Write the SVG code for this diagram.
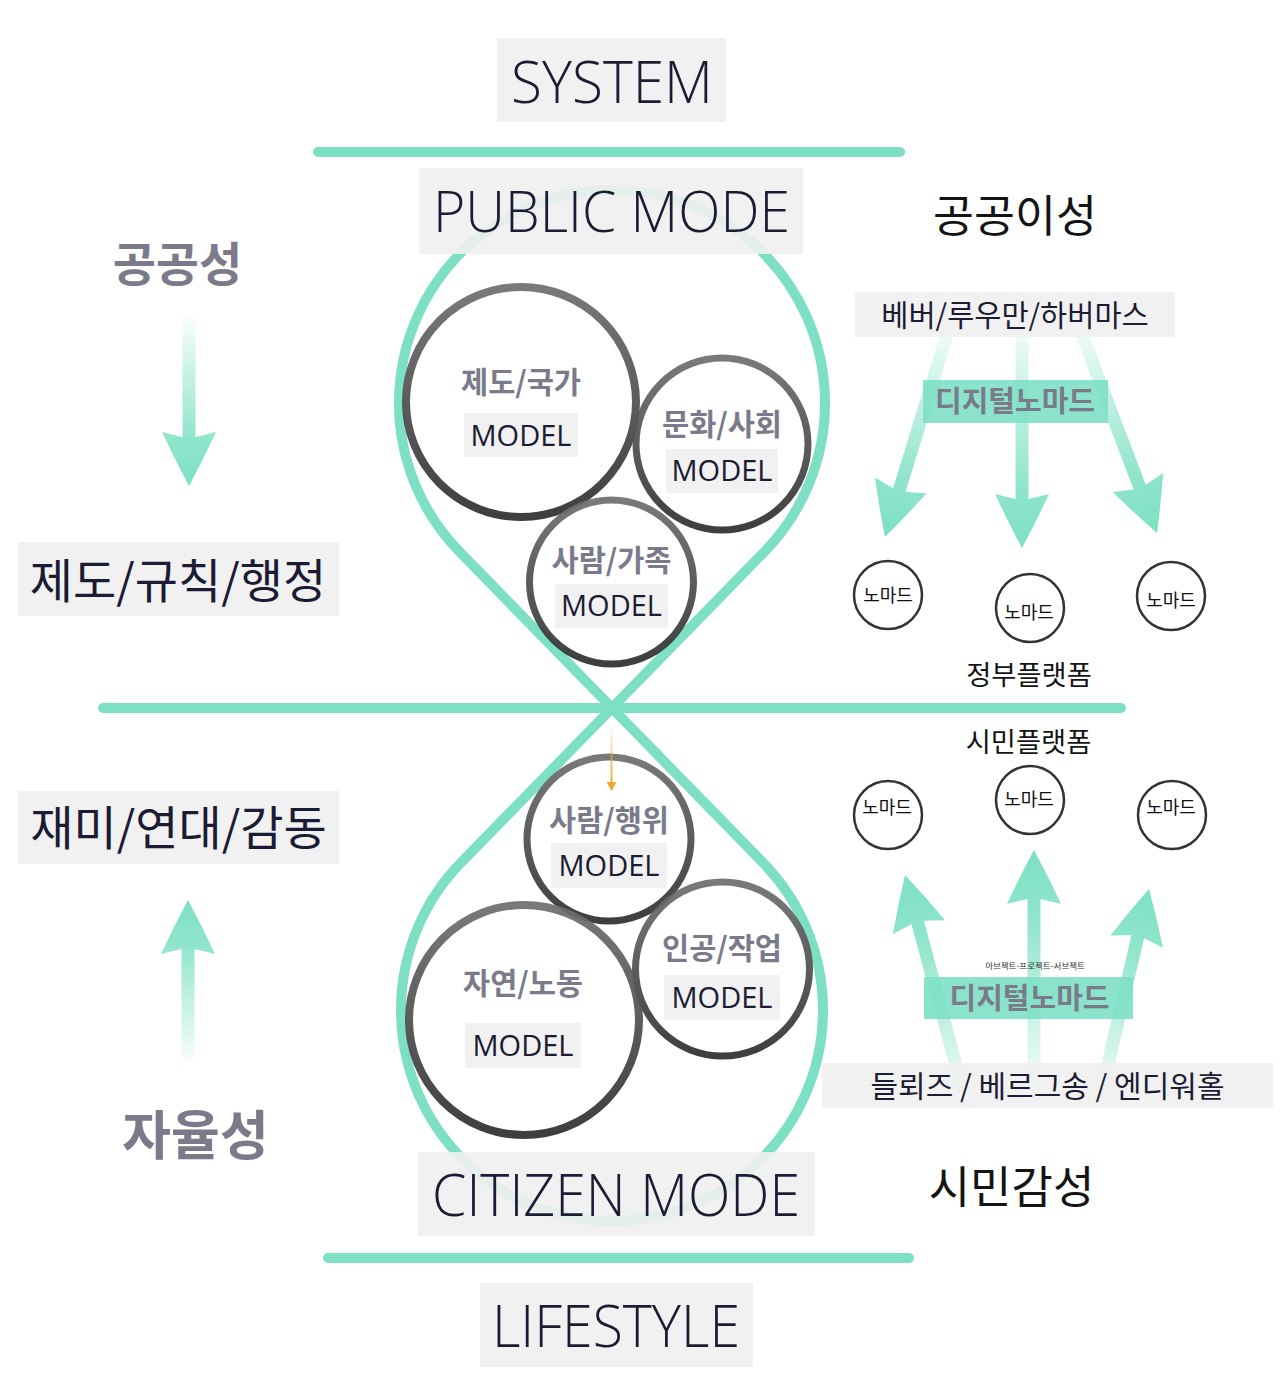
<svg xmlns="http://www.w3.org/2000/svg" width="1280" height="1389" viewBox="0 0 1280 1389">
<defs>
<linearGradient id="fade" x1="0" y1="0" x2="0" y2="1">
<stop offset="0" stop-color="#7de0c4" stop-opacity="0.06"/>
<stop offset="0.72" stop-color="#7de0c4" stop-opacity="0.85"/>
<stop offset="1" stop-color="#7de0c4" stop-opacity="1"/>
</linearGradient>
<linearGradient id="ringGrad" x1="0" y1="0" x2="0" y2="1">
<stop offset="0" stop-color="#6e6e6e"/>
<stop offset="1" stop-color="#2e2e2e"/>
</linearGradient>
<linearGradient id="orangeGrad" gradientUnits="userSpaceOnUse" x1="0" y1="722" x2="0" y2="784">
<stop offset="0" stop-color="#f0a830" stop-opacity="0"/>
<stop offset="1" stop-color="#f0a830" stop-opacity="1"/>
</linearGradient>
</defs>
<style>
.teal{fill:none;stroke:#7de0c4;stroke-width:10;stroke-linecap:round;stroke-linejoin:round}
.box{fill:#f0f0f0;fill-opacity:0.9}
.tbox{fill:#7de0c4;fill-opacity:0.9}
.title{font-family:"Open Sans","Liberation Sans",sans-serif;font-weight:300;fill:#1b1b33;text-anchor:middle}
.model{font-family:"Open Sans","Liberation Sans",sans-serif;font-weight:400;font-size:29px;fill:#1b1b33;text-anchor:middle}
.kr{font-family:"Noto Sans CJK KR","Noto Sans CJK SC",sans-serif;text-anchor:middle}
.gray{fill:#7a7a8b;font-weight:700}
.navy{fill:#1b1b33;font-weight:400}
.blk{fill:#141414;font-weight:400}
.ring{fill:none;stroke:url(#ringGrad);stroke-opacity:0.92}
.bg{fill:#ffffff}
.nomad{fill:#ffffff;stroke:#333333;stroke-width:2.5}
.ntext{font-family:"Noto Sans CJK KR","Noto Sans CJK SC",sans-serif;font-size:18px;fill:#111111;text-anchor:middle}
.arrow{fill:url(#fade)}
</style>
<rect width="1280" height="1389" fill="#ffffff"/>

<g id="frame">
<path class="teal" d="M612,708 L459.6,551.8 A213,213 0 1 1 764.4,551.8 Z"/>
<path class="teal" d="M612,708 L461.1,862.6 A211,211 0 1 0 762.9,862.6 Z"/>
<line class="teal" x1="318" y1="152" x2="900" y2="152"/>
<line class="teal" x1="103" y1="708" x2="1121" y2="708"/>
<line class="teal" x1="328" y1="1258" x2="909" y2="1258"/>
</g>

<g id="circle-backdrops">
<circle class="bg" cx="521" cy="402" r="115"/>
<circle class="bg" cx="722" cy="444" r="86"/>
<circle class="bg" cx="611.5" cy="582" r="82"/>
<circle class="bg" cx="609" cy="839" r="82"/>
<circle class="bg" cx="722.5" cy="969" r="87"/>
<circle class="bg" cx="524" cy="1020" r="115"/>
</g>

<g id="node-jedo-gukga">
<circle class="ring" cx="521" cy="402" r="115" stroke-width="8"/>
<text class="kr gray" x="521" y="393" font-size="29.5">제도/국가</text>
<rect class="box" x="464" y="413" width="114" height="44"/>
<text class="model" x="521" y="445.5">MODEL</text>
</g>
<g id="node-munhwa-sahoe">
<circle class="ring" cx="722" cy="444" r="86" stroke-width="7"/>
<text class="kr gray" x="722" y="435" font-size="29.5">문화/사회</text>
<rect class="box" x="666" y="449" width="112" height="44"/>
<text class="model" x="722" y="481">MODEL</text>
</g>
<g id="node-saram-gajok">
<circle class="ring" cx="611.5" cy="582" r="82" stroke-width="7"/>
<text class="kr gray" x="611.5" y="571" font-size="29.5">사람/가족</text>
<rect class="box" x="555" y="584" width="113" height="44"/>
<text class="model" x="611.5" y="616">MODEL</text>
</g>
<g id="node-saram-haengwi">
<circle class="ring" cx="609" cy="839" r="82" stroke-width="7"/>
<text class="kr gray" x="609" y="831" font-size="29.5">사람/행위</text>
<rect class="box" x="551" y="843" width="116" height="45"/>
<text class="model" x="609" y="876">MODEL</text>
</g>
<g id="node-ingong-jageop">
<circle class="ring" cx="722.5" cy="969" r="87" stroke-width="7"/>
<text class="kr gray" x="722" y="959" font-size="29.5">인공/작업</text>
<rect class="box" x="664" y="975" width="116" height="45"/>
<text class="model" x="722" y="1008">MODEL</text>
</g>
<g id="node-jayeon-nodong">
<circle class="ring" cx="524" cy="1020" r="115" stroke-width="8"/>
<text class="kr gray" x="523" y="994" font-size="29.5">자연/노동</text>
<rect class="box" x="465" y="1023" width="116" height="45"/>
<text class="model" x="523" y="1056">MODEL</text>
</g>

<g id="nomads-upper">
<g id="nomad-u1"><circle class="nomad" cx="888" cy="595" r="34"/><text class="ntext" x="888" y="601.8">노마드</text></g>
<g id="nomad-u2"><circle class="nomad" cx="1030" cy="608" r="34"/><text class="ntext" x="1029" y="618.8">노마드</text></g>
<g id="nomad-u3"><circle class="nomad" cx="1171" cy="596" r="34"/><text class="ntext" x="1171" y="606.8">노마드</text></g>
</g>
<g id="nomads-lower">
<g id="nomad-l1"><circle class="nomad" cx="888" cy="815" r="34"/><text class="ntext" x="887" y="813.8">노마드</text></g>
<g id="nomad-l2"><circle class="nomad" cx="1030" cy="800" r="34"/><text class="ntext" x="1029" y="805.8">노마드</text></g>
<g id="nomad-l3"><circle class="nomad" cx="1172" cy="815" r="34"/><text class="ntext" x="1171" y="813.8">노마드</text></g>
</g>

<g id="connectors">
<path class="arrow" transform="translate(189,486)" d="M0,0 Q-14,-26 -27,-54 L-6.5,-49 L-6.5,-168 L6.5,-168 L6.5,-49 L27,-54 Q14,-26 0,0 Z"/>
<path class="arrow" transform="translate(188,900) rotate(180)" d="M0,0 Q-14,-26 -27,-54 L-6.5,-49 L-6.5,-160 L6.5,-160 L6.5,-49 L27,-54 Q14,-26 0,0 Z"/>
<path class="arrow" transform="translate(1022,548)" d="M0,0 Q-14,-26 -27,-54 L-6.5,-49 L-6.5,-228 L6.5,-228 L6.5,-49 L27,-54 Q14,-26 0,0 Z"/>
<path class="arrow" transform="translate(885,537) rotate(17)" d="M0,0 Q-14,-26 -27,-54 L-6.5,-49 L-6.5,-225 L6.5,-225 L6.5,-49 L27,-54 Q14,-26 0,0 Z"/>
<path class="arrow" transform="translate(1157,533) rotate(-20.7)" d="M0,0 Q-14,-26 -27,-54 L-6.5,-49 L-6.5,-226 L6.5,-226 L6.5,-49 L27,-54 Q14,-26 0,0 Z"/>
<path class="arrow" transform="translate(1034,850) rotate(180)" d="M0,0 Q-14,-26 -27,-54 L-6.5,-49 L-6.5,-245 L6.5,-245 L6.5,-49 L27,-54 Q14,-26 0,0 Z"/>
<path class="arrow" transform="translate(905,875) rotate(165)" d="M0,0 Q-14,-26 -27,-54 L-6.5,-49 L-6.5,-243 L6.5,-243 L6.5,-49 L27,-54 Q14,-26 0,0 Z"/>
<path class="arrow" transform="translate(1149,889) rotate(193.2)" d="M0,0 Q-14,-26 -27,-54 L-6.5,-49 L-6.5,-220 L6.5,-220 L6.5,-49 L27,-54 Q14,-26 0,0 Z"/>
<line x1="611.5" y1="722" x2="611.5" y2="784" stroke="url(#orangeGrad)" stroke-width="2"/>
<path d="M606.5,782 L616.5,782 L611.5,791 Z" fill="#f0a830"/>
</g>

<g id="left-labels">
<g id="gonggongseong"><text class="kr gray" x="177.5" y="281" font-size="47">공공성</text></g>
<g id="jedo-gyuchik"><rect class="box" x="18" y="542" width="321" height="74"/><text class="kr navy" x="178" y="598" font-size="47">제도/규칙/행정</text></g>
<g id="jaemi-yeondae"><rect class="box" x="18" y="791" width="321" height="73"/><text class="kr navy" x="178.5" y="845" font-size="47">재미/연대/감동</text></g>
<g id="jayulseong"><text class="kr gray" x="195.5" y="1155" font-size="53">자율성</text></g>
</g>

<g id="right-labels">
<g id="gonggong-iseong"><text class="kr blk" x="1015" y="232" font-size="44.5">공공이성</text></g>
<g id="weber"><rect class="box" x="855" y="292" width="320" height="45"/><text class="kr navy" x="1015" y="325.5" font-size="29.5">베버/루우만/하버마스</text></g>
<g id="digital-nomad-upper"><rect class="tbox" x="923" y="380" width="185" height="43"/><text class="kr gray" x="1015" y="412" font-size="29" fill="#6f6f80">디지털노마드</text></g>
<g id="gov-platform"><text class="kr blk" x="1029" y="684.5" font-size="27.3">정부플랫폼</text></g>
<g id="citizen-platform"><text class="kr blk" x="1028.5" y="752" font-size="27.3">시민플랫폼</text></g>
<g id="abject"><text class="kr" x="1035" y="969" font-size="8.5" fill="#333333">아브젝트-프로젝트-서브젝트</text></g>
<g id="digital-nomad-lower"><rect class="tbox" x="924" y="977" width="209" height="42"/><text class="kr gray" x="1029.5" y="1009" font-size="29" fill="#6f6f80">디지털노마드</text></g>
<g id="deleuze"><rect class="box" x="822" y="1063" width="451" height="45"/><text class="kr navy" x="1047.5" y="1097" font-size="30">들뢰즈 / 베르그송 / 엔디워홀</text></g>
<g id="simin-gamseong"><text class="kr blk" x="1011.5" y="1204" font-size="45">시민감성</text></g>
</g>

<g id="titles">
<g id="system"><rect class="box" x="497" y="38" width="229" height="84"/><text class="title" x="612" y="103" font-size="58" textLength="202" lengthAdjust="spacingAndGlyphs">SYSTEM</text></g>
<g id="public-mode"><rect class="box" x="419" y="168" width="384" height="86"/><text class="title" x="611.5" y="232" font-size="57" textLength="357" lengthAdjust="spacingAndGlyphs">PUBLIC MODE</text></g>
<g id="citizen-mode"><rect class="box" x="418" y="1152" width="397" height="84"/><text class="title" x="616" y="1216" font-size="58" textLength="368" lengthAdjust="spacingAndGlyphs">CITIZEN MODE</text></g>
<g id="lifestyle"><rect class="box" x="480" y="1283" width="273" height="84"/><text class="title" x="616" y="1347" font-size="58" textLength="248" lengthAdjust="spacingAndGlyphs">LIFESTYLE</text></g>
</g>
</svg>
